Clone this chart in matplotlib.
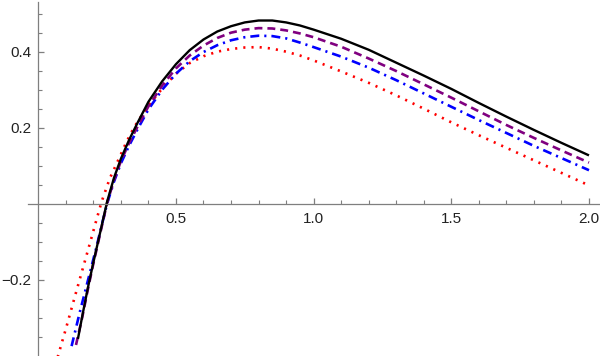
import matplotlib
matplotlib.use("Agg")
import matplotlib.pyplot as plt
from matplotlib.ticker import FixedLocator

# ---- data ----
black_x = [0.144, 0.16, 0.18, 0.20, 0.225, 0.25, 0.275, 0.30, 0.33, 0.36, 0.40, 0.45, 0.50, 0.55, 0.60,
           0.65, 0.70, 0.75, 0.80, 0.85, 0.90, 0.95, 1.00, 1.10, 1.20, 1.30, 1.40, 1.50, 1.60, 1.70,
           1.80, 1.90, 2.00]
black_y = [-0.356, -0.295, -0.222, -0.155, -0.075, 0.005, 0.068, 0.118, 0.168, 0.212, 0.268, 0.322,
           0.367, 0.404, 0.432, 0.453, 0.467, 0.477, 0.482, 0.482, 0.477, 0.469, 0.458, 0.434, 0.405,
           0.371, 0.337, 0.302, 0.265, 0.229, 0.194, 0.160, 0.127]

purple_x = [0.137, 0.16, 0.18, 0.20, 0.225, 0.25, 0.275, 0.30, 0.33, 0.36, 0.40, 0.45, 0.50, 0.55, 0.60,
            0.65, 0.70, 0.75, 0.80, 0.85, 0.90, 0.95, 1.00, 1.10, 1.20, 1.30, 1.40, 1.50, 1.60, 1.70,
            1.80, 1.90, 2.00]
purple_y = [-0.372, -0.298, -0.226, -0.158, -0.078, 0.002, 0.062, 0.112, 0.160, 0.202, 0.256, 0.311,
            0.356, 0.390, 0.416, 0.436, 0.450, 0.458, 0.462, 0.461, 0.456, 0.448, 0.438, 0.413, 0.382,
            0.349, 0.314, 0.279, 0.243, 0.207, 0.173, 0.140, 0.108]

blue_x = [0.121, 0.15, 0.18, 0.21, 0.23, 0.25, 0.275, 0.30, 0.33, 0.36, 0.40, 0.45, 0.50, 0.55, 0.60,
          0.65, 0.70, 0.75, 0.80, 0.85, 0.90, 0.95, 1.00, 1.10, 1.20, 1.30, 1.40, 1.50, 1.60, 1.70,
          1.80, 1.90, 2.00]
blue_y = [-0.375, -0.288, -0.203, -0.118, -0.058, 0.000, 0.058, 0.106, 0.153, 0.195, 0.248, 0.300,
          0.342, 0.375, 0.399, 0.417, 0.430, 0.438, 0.442, 0.441, 0.435, 0.424, 0.412, 0.387, 0.358,
          0.325, 0.290, 0.255, 0.220, 0.186, 0.152, 0.120, 0.088]

red_x = [0.06, 0.10, 0.13, 0.16, 0.19, 0.21, 0.23, 0.26, 0.285, 0.30, 0.32, 0.34, 0.36, 0.40, 0.45,
         0.50, 0.55, 0.60, 0.65, 0.70, 0.75, 0.80, 0.85, 0.90, 0.95, 1.00, 1.10, 1.20, 1.30, 1.40,
         1.50, 1.60, 1.70, 1.80, 1.90, 2.00]
red_y = [-0.43, -0.33, -0.252, -0.175, -0.098, -0.046, 0.005, 0.067, 0.106, 0.130, 0.162, 0.190,
         0.215, 0.258, 0.303, 0.342, 0.370, 0.388, 0.400, 0.407, 0.411, 0.412, 0.408, 0.400, 0.390,
         0.377, 0.348, 0.318, 0.285, 0.250, 0.214, 0.180, 0.147, 0.114, 0.081, 0.048]

x_major = [0.5, 1.0, 1.5, 2.0]
x_labels = ["0.5", "1.0", "1.5", "2.0"]
x_minor = [0.1, 0.2, 0.3, 0.4, 0.6, 0.7, 0.8, 0.9, 1.1, 1.2, 1.3, 1.4, 1.6, 1.7, 1.8, 1.9]
y_major = [-0.2, 0.2, 0.4]
y_labels = ["\u22120.2", "0.2", "0.4"]
y_minor = [-0.35, -0.3, -0.25, -0.15, -0.1, -0.05, 0.05, 0.1, 0.15, 0.25, 0.3, 0.35, 0.45, 0.5]

# ---- figure ----
fig = plt.figure(figsize=(6.0, 3.56), dpi=100)
ax = fig.add_axes([0, 0, 1, 1])
ax.set_xlim(-0.139, 2.040)
ax.set_ylim(-0.401, 0.536)

ax.plot(red_x, red_y, color="#FF0000", lw=1.9, dashes=(0.8, 2.3), dash_capstyle="butt")
ax.plot(blue_x, blue_y, color="#0000FF", lw=1.9, dashes=(3.4, 1.9, 0.8, 1.9), dash_capstyle="butt")
ax.plot(purple_x, purple_y, color="#800080", lw=1.9, dashes=(3.0, 1.9), dash_capstyle="butt")
ax.plot(black_x, black_y, color="#000000", lw=1.7, solid_capstyle="butt")

axis_col = "#7f7f7f"
for s in ["top", "right"]:
    ax.spines[s].set_visible(False)
ax.spines["left"].set_position(("data", 0))
ax.spines["bottom"].set_position(("data", 0))
ax.spines["left"].set_bounds(-0.401, 0.532)
ax.spines["bottom"].set_bounds(-0.037, 2.040)
for s in ["left", "bottom"]:
    ax.spines[s].set_color(axis_col)
    ax.spines[s].set_linewidth(0.9)

ax.xaxis.set_major_locator(FixedLocator(x_major))
ax.set_xticklabels(x_labels)
ax.xaxis.set_minor_locator(FixedLocator(x_minor))
ax.yaxis.set_major_locator(FixedLocator(y_major))
ax.set_yticklabels(y_labels)
ax.yaxis.set_minor_locator(FixedLocator(y_minor))

ax.tick_params(axis="both", which="major", direction="in", length=4.0, width=0.9,
               color=axis_col, labelsize=11, labelcolor="#222222")
ax.tick_params(axis="both", which="minor", direction="in", length=2.6, width=0.8, color=axis_col)
ax.tick_params(axis="x", which="major", pad=6)
ax.tick_params(axis="y", which="major", pad=5)
for t in ax.get_xticklabels() + ax.get_yticklabels():
    t.set_fontfamily("Liberation Sans")

fig.savefig("out.png", dpi=100)
